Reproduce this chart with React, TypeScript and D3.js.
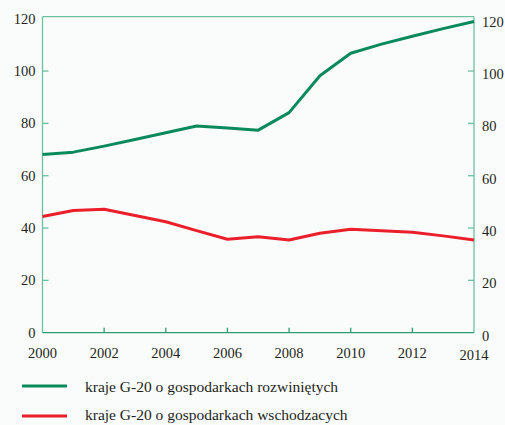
import React from "react";
import * as d3 from "d3";

const years = [2000, 2001, 2002, 2003, 2004, 2005, 2006, 2007, 2008, 2009, 2010, 2011, 2012, 2013, 2014];
const developed = [68.1, 69, 71.3, 73.8, 76.4, 79, 78.2, 77.4, 84.1, 98.2, 106.8, 110.3, 113.3, 116.2, 118.9];
const emerging = [44.4, 46.7, 47.2, 44.8, 42.4, 39, 35.7, 36.7, 35.4, 38, 39.5, 39, 38.4, 37, 35.4];
const yTicks = [0, 20, 40, 60, 80, 100, 120];
const xTicks = [2000, 2002, 2004, 2006, 2008, 2010, 2012, 2014];
const seriesNames = ["kraje G-20 o gospodarkach rozwiniętych", "kraje G-20 o gospodarkach wschodzacych"];
const seriesColors = ["#0a8a5c", "#ea1f2b"];

const W = 505, H = 425;
const L = 42.5, R = 474, T = 18.7, B = 332.7;
const axisCol = "#6cc0a0";
const bottomCol = "#2e9b72";
const font = "'Liberation Serif', 'Times New Roman', serif";

export default function App() {
  const x = d3.scaleLinear().domain([2000, 2014]).range([L, R]);
  const y = d3.scaleLinear().domain([0, 120]).range([B, T]);
  const line = d3.line<number>().x((_, i) => x(years[i])).y((d) => y(d));
  const series = [developed, emerging];
  return (
    <svg width={W} height={H} style={{ position: "absolute", left: 0, top: 0, background: "#fafcfb" }}>
      <rect x={0} y={0} width={W} height={H} fill="#fafcfb" />
      <line x1={L} x2={R} y1={y(120) - 2} y2={y(120) - 2} stroke={axisCol} strokeWidth={1.3} />
      <line x1={L} x2={L} y1={y(120) - 2} y2={B} stroke={axisCol} strokeWidth={1.3} />
      <line x1={R} x2={R} y1={y(120) - 2} y2={B} stroke={axisCol} strokeWidth={1.3} />
      {yTicks.filter((t) => t > 0 && t < 120).map((t) => (
        <g key={"yt" + t}>
          <line x1={L} x2={L + 6} y1={y(t)} y2={y(t)} stroke={axisCol} strokeWidth={1.3} />
          <line x1={R - 6} x2={R} y1={y(t)} y2={y(t)} stroke={axisCol} strokeWidth={1.3} />
        </g>
      ))}
      <line x1={L} x2={R} y1={B} y2={B} stroke={bottomCol} strokeWidth={1.3} />
      {xTicks.filter((t) => t > 2000 && t < 2014).map((t) => (
        <line key={"xt" + t} x1={x(t)} x2={x(t)} y1={B} y2={B - 5} stroke={bottomCol} strokeWidth={1.3} />
      ))}
      {yTicks.map((t) => (
        <g key={"yl" + t} fontFamily={font} fontSize={14.5} fill="#231f20">
          <text x={L - 7} y={y(t) + 5} textAnchor="end">{t}</text>
          <text x={R + 8} y={y(t) + 8} textAnchor="start">{t}</text>
        </g>
      ))}
      {xTicks.map((t) => (
        <text key={"xl" + t} x={x(t)} y={t === 2014 ? 360 : 358} textAnchor="middle" fontFamily={font} fontSize={14.5} fill="#231f20">{t}</text>
      ))}
      {series.map((s, i) => (
        <path key={"s" + i} d={line(s) || ""} fill="none" stroke={seriesColors[i]} strokeWidth={3} strokeLinejoin="round" />
      ))}
      {seriesNames.map((n, i) => (
        <g key={"lg" + i}>
          <line x1={22} x2={67} y1={386 + i * 30} y2={386 + i * 30} stroke={seriesColors[i]} strokeWidth={3} />
          <text x={85} y={392 + i * 28} fontFamily={font} fontSize={15.5} fill="#231f20">{n}</text>
        </g>
      ))}
    </svg>
  );
}
